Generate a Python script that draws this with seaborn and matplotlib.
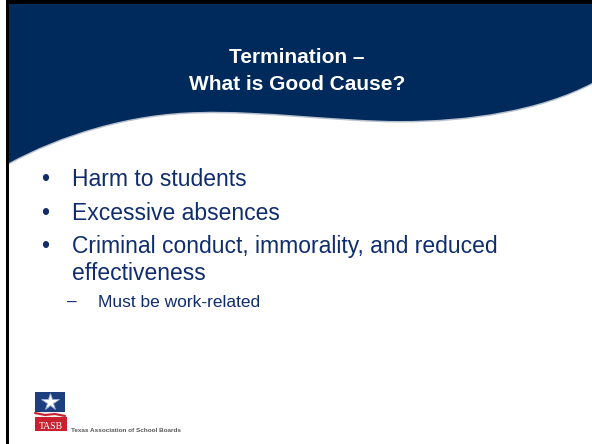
import numpy as np
import matplotlib
matplotlib.use("Agg")
import matplotlib.pyplot as plt
import seaborn as sns
from matplotlib.path import Path
from matplotlib.patches import PathPatch, Rectangle

sns.set_theme(style="white")
plt.rcParams['font.family'] = ['Liberation Sans', 'DejaVu Sans']

# slide content
title_lines = ["Termination \u2013", "What is Good Cause?"]
bullets = [["Harm to students"],
           ["Excessive absences"],
           ["Criminal conduct, immorality, and reduced", "effectiveness"]]
sub_bullets = ["Must be work-related"]
logo_name = "TASB"
logo_text = "Texas Association of School Boards"

NAVY = "#002a5c"
TEXT_BLUE = "#0f2d6e"

fig = plt.figure(figsize=(5.92, 4.44), dpi=100)
ax = fig.add_axes([0, 0, 1, 1])
ax.set_xlim(0, 592)
ax.set_ylim(444, 0)
ax.axis("off")

# navy header with wavy lower edge
verts = [(9, 4), (592, 4), (592, 83),
         (540, 110), (470, 121), (400, 121),
         (340, 121), (260, 110), (200, 112),
         (130, 113), (60, 135), (9, 163),
         (9, 4)]
codes = [Path.MOVETO, Path.LINETO, Path.LINETO,
         Path.CURVE4, Path.CURVE4, Path.CURVE4,
         Path.CURVE4, Path.CURVE4, Path.CURVE4,
         Path.CURVE4, Path.CURVE4, Path.CURVE4,
         Path.CLOSEPOLY]
# soft shadow under the wave
shadow = PathPatch(Path([(x, y + 1.5) for x, y in verts], codes),
                   facecolor="#b8bfcc", edgecolor="none", zorder=1)
ax.add_patch(shadow)
ax.add_patch(PathPatch(Path(verts, codes), facecolor=NAVY, edgecolor="none", zorder=2))

# black frame on top and left
ax.add_patch(Rectangle((6, 0), 586, 4, facecolor="black", edgecolor="none", zorder=3))
ax.add_patch(Rectangle((6, 0), 3, 444, facecolor="black", edgecolor="none", zorder=3))

# title
for i, line in enumerate(title_lines):
    ax.text(297, 63 + 27 * i, line, color="white", fontsize=15, fontweight="bold",
            ha="center", va="baseline", zorder=4)

# bullets
y = 186
for b in bullets:
    ax.text(45, y, "\u2022", color=TEXT_BLUE, fontsize=16.5, ha="center", va="baseline")
    for j, line in enumerate(b):
        ax.text(72, y + 26.5 * j, line, color=TEXT_BLUE, fontsize=16.5,
                ha="left", va="baseline")
    y += 33.5 + 26.5 * (len(b) - 1)
y = 307
for s in sub_bullets:
    ax.text(72, y, "\u2013", color=TEXT_BLUE, fontsize=12.5, ha="center", va="baseline")
    ax.text(98, y, s, color=TEXT_BLUE, fontsize=12.5, ha="left", va="baseline")

# logo
ax.add_patch(Rectangle((35, 392), 30, 20, facecolor="#1d3f7e", edgecolor="none"))
ax.plot([50], [402], marker="*", markersize=13, color="white",
        markeredgecolor="#9fb2d4", markeredgewidth=0.6)
ax.add_patch(Rectangle((35, 412), 30, 5, facecolor="#f2f2f2", edgecolor="none"))
ax.plot([35, 45, 55, 65], [413, 415, 414, 416], color="#c8202f", lw=1.5)
ax.add_patch(Rectangle((35, 417), 32, 14, facecolor="#c8202f", edgecolor="none"))
ax.text(51, 428.5, logo_name, color="white", fontsize=7, family="Liberation Serif",
        ha="center", va="baseline")
ax.text(71, 432, logo_text, color="#5a5a5a", fontsize=4.6, fontweight="bold",
        ha="left", va="baseline")

fig.savefig("out.png", dpi=100, facecolor="white")
